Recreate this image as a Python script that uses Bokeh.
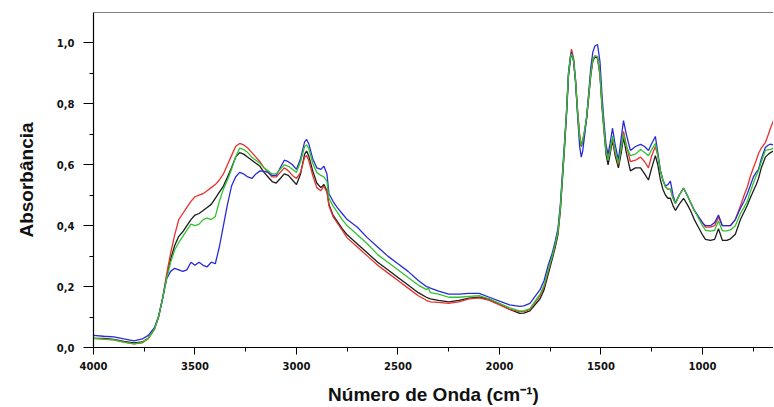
from bokeh.plotting import figure
from bokeh.models import Range1d, FixedTicker, CustomJSTickFormatter, Span
from bokeh.embed import file_html
from bokeh.resources import INLINE

# Wavenumber (cm-1)
wavenumber = [
    4000, 3950, 3900, 3850, 3800, 3760, 3730, 3700, 3680, 3660, 3640,
    3620, 3600, 3580, 3560, 3540, 3520, 3500, 3480, 3460, 3440, 3420, 3400, 3380, 3360,
    3340, 3320, 3300, 3280, 3260, 3240, 3220, 3200, 3180, 3160, 3140, 3120, 3100,
    3080, 3060, 3040, 3020, 3000, 2980, 2960, 2950, 2940, 2920, 2900, 2880, 2865, 2850,
    2840, 2820, 2800, 2775, 2750,
    2700, 2650, 2600, 2550, 2500, 2450, 2400, 2360, 2350, 2340, 2300, 2250, 2200, 2150,
    2100, 2050, 2000, 1950, 1900, 1880, 1850, 1800, 1780, 1760, 1740, 1725, 1712,
    1700, 1690, 1680, 1670, 1660, 1650, 1645, 1635, 1625, 1615, 1605, 1597, 1590, 1580,
    1570, 1560, 1550, 1540, 1530, 1517, 1505, 1495, 1485, 1475, 1465, 1455, 1443, 1430,
    1414, 1400, 1389, 1375, 1355, 1330, 1305, 1285, 1266, 1250, 1232, 1220, 1207, 1195,
    1182, 1170, 1158, 1145, 1133,
    1115, 1093, 1075, 1059, 1040, 1020, 1000, 985, 961, 940, 921, 902, 880, 862, 838,
    813, 795, 779, 765, 749, 735, 724, 710, 690, 675, 665, 650,
]

red = [
    0.030, 0.028, 0.025, 0.018, 0.012, 0.015, 0.030, 0.060, 0.100, 0.160, 0.240,
    0.31, 0.37, 0.42, 0.44, 0.46, 0.48, 0.495, 0.50, 0.505, 0.515, 0.525, 0.535, 0.55, 0.57,
    0.60, 0.63, 0.66, 0.67, 0.665, 0.655, 0.64, 0.625, 0.61, 0.59, 0.575, 0.56, 0.56,
    0.575, 0.59, 0.58, 0.565, 0.555, 0.575, 0.625, 0.63, 0.615, 0.565, 0.525, 0.515, 0.53, 0.51,
    0.465, 0.43, 0.41, 0.385, 0.36,
    0.33, 0.30, 0.27, 0.245, 0.22, 0.195, 0.17, 0.155, 0.152, 0.15, 0.148, 0.145, 0.15, 0.16,
    0.163, 0.155, 0.14, 0.125, 0.118, 0.118, 0.125, 0.17, 0.20, 0.25, 0.30, 0.34, 0.38,
    0.46, 0.56, 0.66, 0.77, 0.90, 0.96, 0.98, 0.95, 0.88, 0.78, 0.70, 0.665, 0.68, 0.715,
    0.76, 0.83, 0.90, 0.945, 0.958, 0.955, 0.90, 0.80, 0.72, 0.65, 0.62, 0.65, 0.685, 0.64,
    0.60, 0.66, 0.71, 0.665, 0.61, 0.615, 0.625, 0.61, 0.59, 0.63, 0.66, 0.63, 0.58, 0.55,
    0.527, 0.52, 0.52, 0.49, 0.473,
    0.50, 0.523, 0.50, 0.477, 0.45, 0.43, 0.41, 0.395, 0.395, 0.40, 0.428, 0.40, 0.40, 0.40, 0.42,
    0.465, 0.50, 0.527, 0.56, 0.59, 0.615, 0.637, 0.655, 0.673, 0.70, 0.72, 0.745,
]

black = [
    0.030, 0.030, 0.027, 0.020, 0.015, 0.018, 0.030, 0.060, 0.100, 0.160, 0.230,
    0.29, 0.335, 0.365, 0.38, 0.40, 0.42, 0.435, 0.44, 0.45, 0.46, 0.47, 0.49, 0.51, 0.53,
    0.56, 0.59, 0.625, 0.64, 0.635, 0.625, 0.615, 0.605, 0.595, 0.575, 0.56, 0.545, 0.54,
    0.555, 0.57, 0.565, 0.55, 0.535, 0.57, 0.635, 0.645, 0.63, 0.58, 0.54, 0.525, 0.535, 0.515,
    0.47, 0.435, 0.415, 0.39, 0.37,
    0.34, 0.31, 0.28, 0.255, 0.23, 0.205, 0.18, 0.165, 0.162, 0.16, 0.155, 0.15, 0.155, 0.162,
    0.165, 0.158, 0.142, 0.125, 0.112, 0.113, 0.12, 0.16, 0.19, 0.24, 0.29, 0.33, 0.37,
    0.45, 0.55, 0.65, 0.76, 0.89, 0.95, 0.965, 0.94, 0.87, 0.77, 0.69, 0.66, 0.675, 0.71,
    0.755, 0.825, 0.895, 0.94, 0.955, 0.95, 0.895, 0.79, 0.71, 0.635, 0.60, 0.635, 0.68, 0.63,
    0.59, 0.64, 0.69, 0.64, 0.58, 0.59, 0.59, 0.57, 0.55, 0.59, 0.63, 0.60, 0.55, 0.52,
    0.50, 0.49, 0.49, 0.465, 0.45,
    0.47, 0.49, 0.47, 0.45, 0.42, 0.395, 0.37, 0.355, 0.352, 0.355, 0.39, 0.352, 0.352, 0.357, 0.372,
    0.42, 0.445, 0.467, 0.49, 0.515, 0.535, 0.555, 0.59, 0.625, 0.635, 0.64, 0.645,
]

green = [
    0.030, 0.027, 0.025, 0.018, 0.012, 0.017, 0.030, 0.060, 0.100, 0.160, 0.225,
    0.28, 0.32, 0.345, 0.365, 0.385, 0.405, 0.40, 0.405, 0.42, 0.425, 0.42, 0.43, 0.48, 0.52,
    0.55, 0.585, 0.625, 0.655, 0.65, 0.64, 0.625, 0.615, 0.605, 0.59, 0.58, 0.57, 0.57,
    0.585, 0.60, 0.595, 0.585, 0.575, 0.61, 0.66, 0.665, 0.655, 0.605, 0.575, 0.565, 0.56, 0.545,
    0.49, 0.465, 0.445, 0.42, 0.40,
    0.37, 0.34, 0.305, 0.28, 0.255, 0.23, 0.205, 0.19, 0.195, 0.18, 0.175, 0.165, 0.165, 0.168,
    0.17, 0.16, 0.145, 0.13, 0.12, 0.12, 0.128, 0.175, 0.205, 0.255, 0.30, 0.34, 0.38,
    0.46, 0.56, 0.66, 0.77, 0.90, 0.955, 0.965, 0.945, 0.875, 0.77, 0.69, 0.663, 0.68, 0.715,
    0.76, 0.83, 0.90, 0.945, 0.957, 0.955, 0.90, 0.80, 0.72, 0.645, 0.615, 0.645, 0.695, 0.645,
    0.605, 0.655, 0.70, 0.66, 0.63, 0.635, 0.65, 0.64, 0.63, 0.65, 0.67, 0.63, 0.58, 0.55,
    0.527, 0.52, 0.52, 0.49, 0.473,
    0.50, 0.523, 0.50, 0.477, 0.45, 0.425, 0.40, 0.385, 0.382, 0.385, 0.415, 0.383, 0.383, 0.386, 0.40,
    0.44, 0.46, 0.48, 0.51, 0.54, 0.565, 0.58, 0.61, 0.647, 0.65, 0.65, 0.655,
]

blue = [
    0.040, 0.037, 0.035, 0.028, 0.022, 0.028, 0.040, 0.065, 0.100, 0.160, 0.225,
    0.25, 0.26, 0.255, 0.25, 0.255, 0.28, 0.27, 0.28, 0.27, 0.265, 0.28, 0.275, 0.33, 0.40,
    0.47, 0.53, 0.56, 0.575, 0.57, 0.56, 0.555, 0.57, 0.58, 0.578, 0.575, 0.565, 0.565,
    0.59, 0.615, 0.61, 0.60, 0.585, 0.62, 0.675, 0.683, 0.67, 0.62, 0.59, 0.585, 0.595, 0.57,
    0.505, 0.48, 0.46, 0.44, 0.42,
    0.395, 0.36, 0.33, 0.30, 0.275, 0.25, 0.22, 0.20, 0.198, 0.195, 0.185, 0.175, 0.175, 0.178,
    0.178, 0.165, 0.152, 0.14, 0.135, 0.137, 0.145, 0.19, 0.22, 0.27, 0.31, 0.35, 0.39,
    0.47, 0.57, 0.67, 0.77, 0.90, 0.955, 0.97, 0.945, 0.87, 0.76, 0.66, 0.625, 0.645, 0.70,
    0.76, 0.84, 0.92, 0.97, 0.99, 0.995, 0.94, 0.83, 0.74, 0.665, 0.635, 0.67, 0.72, 0.665,
    0.615, 0.69, 0.745, 0.70, 0.647, 0.66, 0.667, 0.66, 0.647, 0.67, 0.693, 0.64, 0.58, 0.55,
    0.53, 0.535, 0.546, 0.50, 0.475,
    0.50, 0.523, 0.50, 0.477, 0.45, 0.43, 0.41, 0.40, 0.40, 0.41, 0.435, 0.40, 0.40, 0.40, 0.42,
    0.457, 0.48, 0.505, 0.53, 0.56, 0.575, 0.585, 0.62, 0.657, 0.665, 0.668, 0.665,
]

x_major = [4000, 3500, 3000, 2500, 2000, 1500, 1000]
x_minor = [3750, 3250, 2750, 2250, 1750, 1250, 750]
y_major = [0.0, 0.2, 0.4, 0.6, 0.8, 1.0]
y_minor = [0.1, 0.3, 0.5, 0.7, 0.9]

series = [
    ("black", black, "#1c1c1c"),
    ("red", red, "#e8302c"),
    ("blue", blue, "#2a2ad8"),
    ("green", green, "#2fc42f"),
]

p = figure(
    width=773, height=407,
    x_range=Range1d(4000, 650), y_range=Range1d(0, 1.1),
    output_backend="svg", toolbar_location=None,
    min_border_left=93, min_border_right=0, min_border_top=12, min_border_bottom=59,
    x_axis_label="Número de Onda (cm⁻¹)", y_axis_label="Absorbância",
)
p.background_fill_color = "white"
p.border_fill_color = "white"
p.outline_line_color = None
p.grid.visible = False

for name, vals, col in series:
    p.line(wavenumber, vals, line_color=col, line_width=1.3)

p.add_layout(Span(location=1.1, dimension="width", line_color="black", line_width=1.2))

for ax in (p.xaxis[0], p.yaxis[0]):
    ax.axis_line_color = "black"
    ax.axis_line_width = 1.2
    ax.major_tick_line_color = "black"
    ax.minor_tick_line_color = "black"
    ax.major_tick_in = 0
    ax.minor_tick_in = 0
    ax.minor_tick_out = 4
    ax.major_label_text_font = "DejaVu Sans"
    ax.major_label_text_font_style = "bold"
    ax.major_label_text_font_size = "10px"
    ax.major_label_text_color = "#111111"
    ax.axis_label_text_font = "Liberation Sans"
    ax.axis_label_text_font_style = "bold"
    ax.axis_label_text_font_size = "19px"
    ax.axis_label_text_color = "#111111"

p.xaxis[0].ticker = FixedTicker(ticks=x_major, minor_ticks=x_minor)
p.xaxis[0].major_tick_out = 7
p.xaxis[0].major_label_standoff = 7
p.xaxis[0].axis_label_standoff = 11

p.yaxis[0].ticker = FixedTicker(ticks=y_major, minor_ticks=y_minor)
p.yaxis[0].major_tick_out = 10
p.yaxis[0].major_label_standoff = 9
p.yaxis[0].axis_label_standoff = 17
p.yaxis[0].formatter = CustomJSTickFormatter(code="return tick.toFixed(1).replace('.', ',');")

open("out.html", "w").write(file_html(p, INLINE))
